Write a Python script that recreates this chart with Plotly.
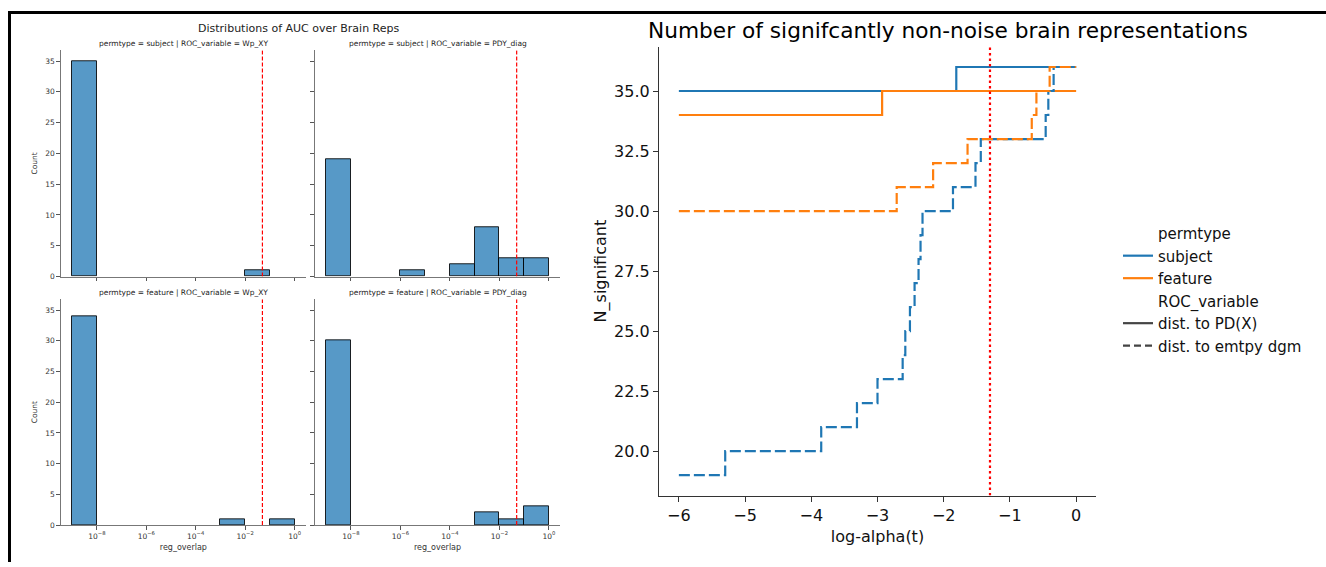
import plotly.graph_objects as go
import numpy as np

W, H = 1326, 567

# ---------------- data: left panel histograms (log10 reg_overlap bins) ----------------
bin_left_edges = [-9, -8, -7, -6, -5, -4, -3, -2, -1]
counts_subject_Wp_XY = [35, 0, 0, 0, 0, 0, 0, 1, 0]
counts_subject_PDY_diag = [19, 0, 0, 1, 0, 2, 8, 3, 3]
counts_feature_Wp_XY = [34, 0, 0, 0, 0, 0, 1, 0, 1]
counts_feature_PDY_diag = [30, 0, 0, 0, 0, 0, 2, 1, 3]
hist_ticks_log = [-8, -6, -4, -2, 0]
hist_tick_labels = ["10<sup>−8</sup>", "10<sup>−6</sup>", "10<sup>−4</sup>", "10<sup>−2</sup>", "10<sup>0</sup>"]
alpha_threshold = 0.05
panel_titles = [
    "permtype = subject | ROC_variable = Wp_XY",
    "permtype = subject | ROC_variable = PDY_diag",
    "permtype = feature | ROC_variable = Wp_XY",
    "permtype = feature | ROC_variable = PDY_diag",
]

# ---------------- data: right panel step lines ----------------
subject_pdx_logalpha = [-6, -1.81, 0]
subject_pdx_n = [35, 36, 36]
feature_pdx_logalpha = [-6, -2.93, 0]
feature_pdx_n = [34, 35, 35]
subject_empty_logalpha = [-6, -5.30, -3.85, -3.31, -3.00, -2.62, -2.58, -2.51, -2.44, -2.38, -2.35, -2.32,
                          -1.86, -1.52, -1.44, -0.46, -0.42, -0.34, 0]
subject_empty_n = [19, 20, 21, 22, 23, 24, 25, 26, 27, 28, 29, 30, 31, 32, 33, 34, 35, 36, 36]
feature_empty_logalpha = [-6, -2.71, -2.16, -1.64, -0.67, -0.60, -0.40, 0]
feature_empty_n = [30, 31, 32, 33, 34, 35, 36, 36]

BLUE = "#1f77b4"
ORANGE = "#ff7f0e"
BAR_FILL = "rgba(31,119,180,0.75)"
FONT = "DejaVu Sans"

def px_x(p):
    return p / W

def px_y(p):
    return 1 - p / H

fig = go.Figure()

# panel pixel boxes: (x0, x1, ytop, ybottom)
boxes = [
    (61, 305.7, 50.7, 279),
    (315, 560, 50.7, 279),
    (61, 305.7, 302, 529.7),
    (315, 560, 302, 529.7),
]
all_counts = [counts_subject_Wp_XY, counts_subject_PDY_diag, counts_feature_Wp_XY, counts_feature_PDY_diag]
log_thr = float(np.log10(alpha_threshold))

for i, (cnts, box) in enumerate(zip(all_counts, boxes)):
    k = i + 1
    xa = "x" if k == 1 else f"x{k}"
    ya = "y" if k == 1 else f"y{k}"
    xs = [e + 0.5 for e, c in zip(bin_left_edges, cnts) if c > 0]
    ys = [c for c in cnts if c > 0]
    fig.add_trace(go.Bar(x=xs, y=ys, width=[1.0] * len(xs), xaxis=xa, yaxis=ya,
                         marker=dict(color=BAR_FILL, line=dict(color="rgba(0,0,0,0.85)", width=1)),
                         showlegend=False))
    fig.add_trace(go.Scatter(x=[log_thr, log_thr], y=[0, 36.75], mode="lines", xaxis=xa, yaxis=ya,
                             line=dict(color="red", width=1.2, dash="4px,2px"), showlegend=False))
    x0, x1, yt, yb = box
    bottom_row = k in (3, 4)
    left_col = k in (1, 3)
    xax = dict(
        domain=[px_x(x0), px_x(x1)], anchor=ya, range=[-9.45, 0.45],
        tickvals=hist_ticks_log, ticktext=hist_tick_labels, showticklabels=bottom_row,
        ticks="outside", ticklen=3.5, tickwidth=0.8, tickcolor="#555",
        showline=True, linecolor="#777", linewidth=1.2, showgrid=False, zeroline=False,
        tickfont=dict(family=FONT, size=7.5, color="#333"),
    )
    if bottom_row:
        xax["title"] = dict(text="reg_overlap", font=dict(family=FONT, size=8, color="#333"), standoff=4)
    yax = dict(
        domain=[px_y(yb), px_y(yt)], anchor=xa, range=[0, 36.75],
        tickvals=[0, 5, 10, 15, 20, 25, 30, 35], showticklabels=left_col,
        ticks="outside", ticklen=3.5, tickwidth=0.8, tickcolor="#555",
        showline=True, linecolor="#777", linewidth=1.2, showgrid=False, zeroline=False,
        tickfont=dict(family=FONT, size=7.5, color="#333"),
    )
    if left_col:
        yax["title"] = dict(text="Count", font=dict(family=FONT, size=7.5, color="#333"), standoff=6)
    fig.layout[("xaxis" if k == 1 else f"xaxis{k}")] = xax
    fig.layout[("yaxis" if k == 1 else f"yaxis{k}")] = yax

# ---------------- right panel ----------------
rx, ry = "x5", "y5"
series = [
    (subject_pdx_logalpha, subject_pdx_n, BLUE, "solid"),
    (feature_pdx_logalpha, feature_pdx_n, ORANGE, "solid"),
    (subject_empty_logalpha, subject_empty_n, BLUE, "11px,4px"),
    (feature_empty_logalpha, feature_empty_n, ORANGE, "11px,4px"),
]
for xs, ys, col, dash in series:
    fig.add_trace(go.Scatter(x=xs, y=ys, mode="lines", line=dict(color=col, width=2.2, dash=dash, shape="hv"),
                             xaxis=rx, yaxis=ry, showlegend=False))
fig.add_trace(go.Scatter(x=[log_thr, log_thr], y=[18.15, 36.85], mode="lines", xaxis=rx, yaxis=ry,
                         line=dict(color="red", width=2.2, dash="2.5px,3px"), showlegend=False))

# legend entries
legend_items = [
    ("permtype", "rgba(0,0,0,0)", "solid"),
    ("subject", BLUE, "solid"),
    ("feature", ORANGE, "solid"),
    ("ROC_variable", "rgba(0,0,0,0)", "solid"),
    ("dist. to PD(X)", "#444444", "solid"),
    ("dist. to emtpy dgm", "#444444", "7px,4px"),
]
for name, col, dash in legend_items:
    fig.add_trace(go.Scatter(x=[None], y=[None], mode="lines", name=name, xaxis=rx, yaxis=ry,
                             line=dict(color=col, width=2.2, dash=dash), showlegend=True))

fig.update_layout(
    xaxis5=dict(domain=[px_x(659), px_x(1096)], anchor=ry, range=[-6.3, 0.3],
                tickvals=[-6, -5, -4, -3, -2, -1, 0], ticktext=["−6", "−5", "−4", "−3", "−2", "−1", "0"],
                ticks="outside", ticklen=5, tickwidth=1.1, tickcolor="#333",
                showline=True, linecolor="#333", linewidth=1.3, showgrid=False, zeroline=False,
                tickfont=dict(family=FONT, size=16, color="#111"),
                title=dict(text="log-alpha(t)", font=dict(family=FONT, size=16, color="#111"), standoff=6)),
    yaxis5=dict(domain=[px_y(500), px_y(47)], anchor=rx, range=[18.15, 36.85],
                tickvals=[20, 22.5, 25, 27.5, 30, 32.5, 35], ticktext=["20.0", "22.5", "25.0", "27.5", "30.0", "32.5", "35.0"],
                ticks="outside", ticklen=5, tickwidth=1.1, tickcolor="#333",
                showline=True, linecolor="#333", linewidth=1.3, showgrid=False, zeroline=False,
                tickfont=dict(family=FONT, size=16, color="#111"),
                title=dict(text="N_significant", font=dict(family=FONT, size=16, color="#111"), standoff=3)),
)

annotations = [
    dict(text="Distributions of AUC over Brain Reps", x=px_x(298.5), y=px_y(28.7), font=dict(size=11, color="#222")),
    dict(text="Number of signifcantly non-noise brain representations", x=px_x(947.5), y=px_y(31),
         font=dict(size=21.7, color="#000")),
]
title_centers = [(183.5, 44), (437.5, 44), (183.5, 294.7), (437.5, 294.7)]
for t, (cx, cy) in zip(panel_titles, title_centers):
    annotations.append(dict(text=t, x=px_x(cx), y=px_y(cy), font=dict(size=7.5, color="#222")))
for a in annotations:
    a.update(xref="paper", yref="paper", xanchor="center", yanchor="middle", showarrow=False)
    a["font"]["family"] = FONT

shapes = [
    dict(type="line", xref="paper", yref="paper", x0=px_x(9.5), x1=1.0, y0=px_y(12.5), y1=px_y(12.5),
         line=dict(color="black", width=3)),
    dict(type="line", xref="paper", yref="paper", x0=px_x(9.5), x1=px_x(9.5), y0=px_y(11), y1=0,
         line=dict(color="black", width=3)),
]

fig.update_layout(
    width=W, height=H, margin=dict(l=0, r=0, t=0, b=0),
    paper_bgcolor="white", plot_bgcolor="white",
    annotations=annotations, shapes=shapes, bargap=0,
    font=dict(family=FONT, color="#111"),
    legend=dict(x=px_x(1118), y=px_y(292), xanchor="left", yanchor="middle",
                font=dict(family=FONT, size=15, color="#111"), bgcolor="rgba(0,0,0,0)",
                traceorder="normal", itemwidth=30, tracegroupgap=0),
)

fig.write_html("out.html")
